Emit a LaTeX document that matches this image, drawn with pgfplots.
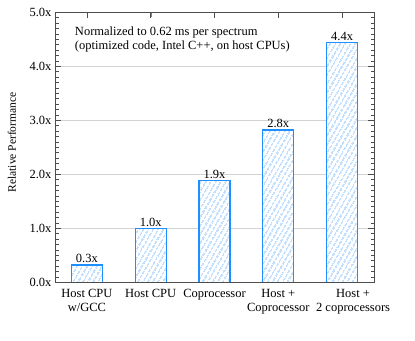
\documentclass[border=0pt]{standalone}
\usepackage{pgfplots}
\pgfplotsset{compat=1.18}
\usetikzlibrary{patterns.meta}
\usepackage{fontspec}
\setmainfont{Liberation Serif}
\definecolor{barblue}{HTML}{1E8FFF}
\definecolor{framegray}{HTML}{4D4D4D}
\begin{document}
\begin{tikzpicture}
\begin{axis}[
  name=ax,
  scale only axis,
  width=319pt, height=270pt,
  xmin=-0.5, xmax=4.5,
  ymin=0, ymax=5,
  font=\fontsize{12.5}{14}\selectfont,
  /pgf/number format/assume math mode=true,
  axis line style={framegray, line width=0.7pt},
  xtick={0,1,2,3,4},
  xticklabels={{Host CPU\\w/GCC},{Host CPU},{Coprocessor},{Host +\\Coprocessor},{\hspace*{22pt}Host +\\\hspace*{22pt}2 coprocessors}},
  xticklabel style={align=center, text=black, yshift=-3pt},
  ytick={0,1,2,3,4,5},
  yticklabel={\pgfmathprintnumber[fixed,fixed zerofill,precision=1]{\tick}x},
  ymajorgrids,
  major grid style={draw=gray!35, line width=0.5pt},
  ylabel={Relative Performance},
  ylabel style={font=\fontsize{11.5}{13}\selectfont, at={(rel axis cs:-0.135,0.518)}, anchor=center},
  clip=false,
]
\addplot[ybar, bar width=31pt, draw=barblue, line width=1.2pt, fill=white,
  postaction={pattern={Lines[angle=60, distance=4pt, line width=0.6pt]}, pattern color=barblue!75},
  nodes near coords={\pgfmathprintnumber[fixed,fixed zerofill,precision=1]{\pgfplotspointmeta}x},
  every node near coord/.append style={inner sep=1.5pt, text=black}]
  coordinates {(0,0.32) (1,1.0) (2,1.88) (3,2.82) (4,4.44)};
\node[anchor=north west, align=left, inner sep=0pt] at (axis cs:-0.19,4.73)
  {Normalized to 0.62 ms per spectrum\\(optimized code, Intel C++, on host CPUs)};
\end{axis}
\begin{axis}[
  at={(ax.south west)}, anchor=south west,
  scale only axis,
  width=319pt, height=270pt,
  xmin=-0.5, xmax=4.5,
  ymin=0, ymax=5,
  xtick={0,1,2,3,4},
  ytick={0,1,2,3,4,5},
  minor ytick={0,0.1,...,5},
  tickwidth=6pt, subtickwidth=3.5pt,
  ytick pos=both,
  xtick pos=right,
  xticklabels={}, yticklabels={},
  axis line style={framegray, line width=0.7pt},
  tick style={framegray, line width=0.6pt},
]
\addplot[draw=none] coordinates {(0,0)};
\end{axis}
\path (ax.south west) ++(-55pt,-57.7pt) coordinate (bl);
\path (ax.north east) ++(41pt,12.3pt) coordinate (tr);
\path (bl) rectangle (tr);
\end{tikzpicture}
\end{document}
